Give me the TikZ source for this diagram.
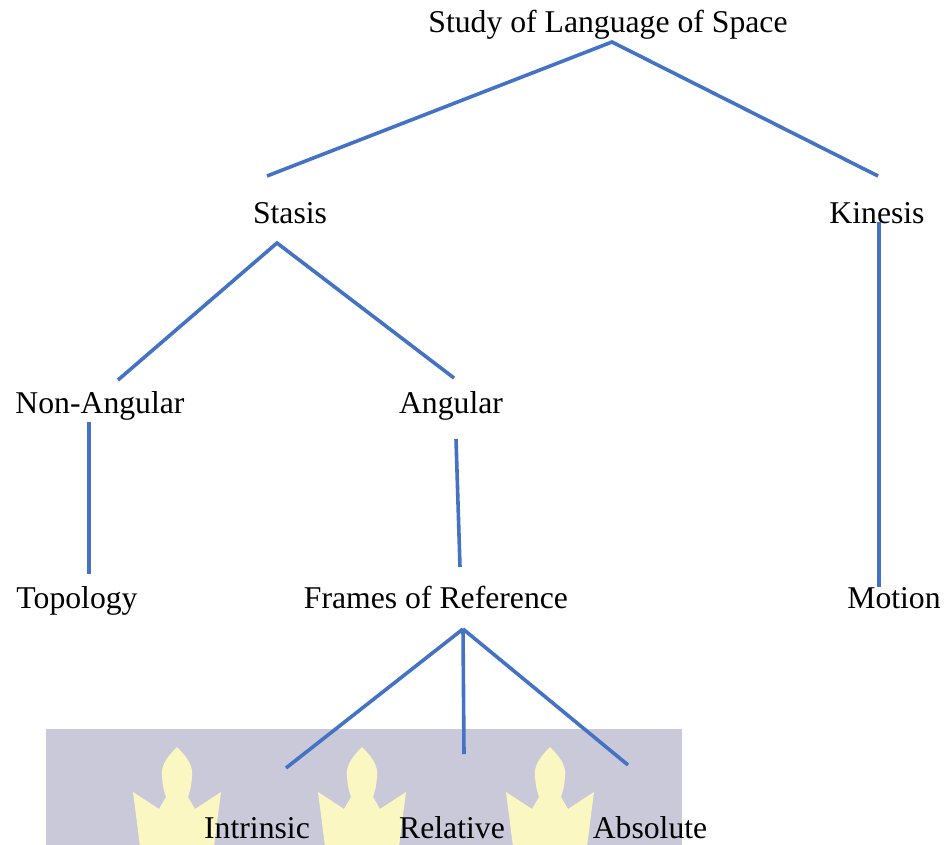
\documentclass[tikz,border=0pt]{standalone}
\usepackage{fontspec}
\setmainfont{Liberation Serif}
\usepackage{tikz}
\usetikzlibrary{positioning,calc}

\definecolor{linkblue}{HTML}{4472C4}
\definecolor{bandgray}{HTML}{C9C9D9}
\definecolor{flameyellow}{HTML}{FAF7C2}

\tikzset{
    term/.style={anchor=base, inner sep=0pt, font=\fontsize{31.7}{38}\selectfont},
    link/.style={linkblue, line width=3.6pt},
    flame/.style={fill=flameyellow, draw=none}
}

\begin{document}
\begin{tikzpicture}[x=1pt, y=-1pt]
    \useasboundingbox (0,0) rectangle (947,845);
    % background band with flames
    \fill[bandgray] (46,729) rectangle (682,845);
    \foreach \cx in {177,362,550} {
        \fill[flame, shift={(\cx,747)}] (0,0) .. controls (8,8) and (17,18) .. (15,30)
            .. controls (14,40) .. (11,50) -- (18,62) -- (44,45) -- (41,68) -- (37,100)
            -- (-37,100) -- (-41,68) -- (-44,45) -- (-18,62) -- (-11,50)
            .. controls (-14,40) .. (-15,30) .. controls (-17,18) and (-8,8) .. (0,0);
    }
    % labels
    \node[term] (study) at (608,33) {Study of Language of Space};
    \node[term] (stasis) at (290,223) {Stasis};
    \node[term] (kinesis) at (877,223) {Kinesis};
    \node[term] (nonang) at (100,413) {Non-Angular};
    \node[term] (angular) at (451,413) {Angular};
    \node[term] (topology) at (77,608) {Topology};
    \node[term] (frames) at (436,608) {Frames of Reference};
    \node[term] (motion) at (894,608) {Motion};
    \node[term] (intrinsic) at (257,838) {Intrinsic};
    \node[term] (relative) at (452,838) {Relative};
    \node[term] (absolute) at (650,838) {Absolute};
    % line ends
    \coordinate (study-s) at (612,42);
    \coordinate (stasis-n) at (267,176);
    \coordinate (kinesis-n) at (878,176);
    \coordinate (stasis-s) at (277,243);
    \coordinate (nonang-n) at (118,380);
    \coordinate (angular-n) at (454,378);
    \coordinate (kinesis-s) at (879,222);
    \coordinate (motion-n) at (879,587);
    \coordinate (nonang-s) at (89,422);
    \coordinate (topology-n) at (89,574);
    \coordinate (angular-s) at (456,439);
    \coordinate (frames-n) at (460,567);
    \coordinate (frames-s) at (463,629);
    \coordinate (intrinsic-n) at (286,768);
    \coordinate (relative-n) at (464,754);
    \coordinate (absolute-n) at (628,765);
    % connectors
    \draw[link] (stasis-n) -- (study-s) -- (kinesis-n);
    \draw[link] (nonang-n) -- (stasis-s) -- (angular-n);
    \draw[link] (kinesis-s) -- (motion-n);
    \draw[link] (nonang-s) -- (topology-n);
    \draw[link] (angular-s) -- (frames-n);
    \draw[link] (frames-s) -- (intrinsic-n);
    \draw[link] (frames-s) -- (relative-n);
    \draw[link] (frames-s) -- (absolute-n);
\end{tikzpicture}
\end{document}
